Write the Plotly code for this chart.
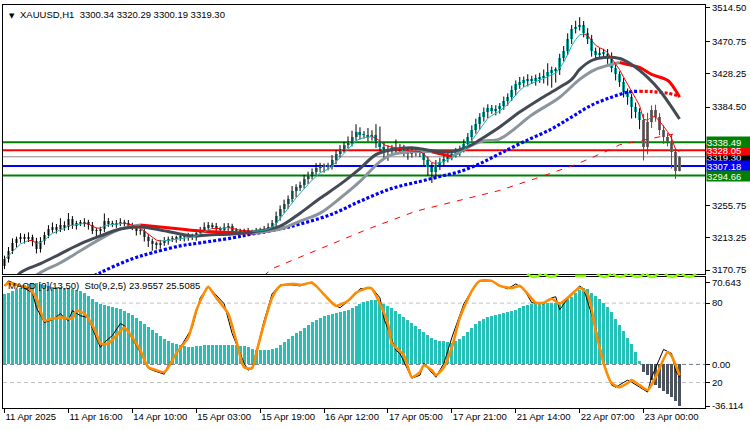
import plotly.graph_objects as go

# ---------------- data ----------------
x_labels = ["11 Apr 2025", "11 Apr 16:00", "14 Apr 10:00", "15 Apr 03:00", "15 Apr 19:00",
            "16 Apr 12:00", "17 Apr 05:00", "17 Apr 21:00", "21 Apr 14:00", "22 Apr 07:00",
            "23 Apr 00:00"]
x_label_bars = [0, 16, 32, 48, 64, 80, 96, 112, 128, 144, 160]

price_ticks = [3514.50, 3470.75, 3428.25, 3384.50, 3255.75, 3213.25, 3170.75]

first_open = 3176.0
closes = [
    3185.6, 3196.0, 3206.4, 3211.6, 3214.2, 3211.6, 3214.2, 3209.0, 3198.6, 3209.0,
    3216.8, 3224.6, 3227.2, 3224.6, 3229.8, 3227.2, 3237.6, 3229.8, 3232.4, 3232.4,
    3233.7, 3229.8, 3222.0, 3222.0, 3224.6, 3235.0, 3232.4, 3231.1, 3232.4, 3233.7,
    3232.4, 3229.8, 3227.2, 3222.0, 3222.0, 3214.2, 3209.0, 3205.1, 3203.8, 3206.4,
    3209.0, 3211.6, 3211.6, 3212.9, 3214.2, 3214.2, 3215.5, 3214.2, 3219.4, 3223.3,
    3227.2, 3229.8, 3228.5, 3224.6, 3224.6, 3227.2, 3228.5, 3222.0, 3222.0, 3220.7,
    3222.0, 3220.7, 3220.7, 3222.0, 3223.3, 3224.6, 3227.2, 3232.4, 3241.5, 3250.6,
    3257.1, 3263.6, 3274.0, 3279.2, 3281.8, 3289.6, 3294.8, 3300.0, 3305.2, 3306.5,
    3306.5, 3306.5, 3315.6, 3323.4, 3328.6, 3335.1, 3339.0, 3345.5, 3352.0, 3348.1,
    3348.1, 3345.5, 3348.1, 3339.0, 3332.5, 3326.0, 3328.6, 3329.9, 3328.6, 3329.9,
    3326.0, 3323.4, 3326.0, 3326.0, 3326.0, 3315.6, 3306.5, 3300.0, 3309.1, 3313.0,
    3316.9, 3320.8, 3323.4, 3326.0, 3329.9, 3336.4, 3345.5, 3354.6, 3362.4, 3371.5,
    3378.0, 3383.2, 3380.6, 3381.9, 3385.8, 3392.3, 3397.5, 3406.6, 3414.4, 3417.0,
    3419.6, 3419.6, 3419.6, 3422.2, 3423.5, 3424.8, 3430.0, 3432.6, 3432.6, 3449.5,
    3458.6, 3474.2, 3487.2, 3489.8, 3492.4, 3482.0, 3474.2, 3458.6, 3453.4, 3456.0,
    3454.7, 3448.2, 3435.2, 3427.4, 3417.0, 3404.0, 3397.5, 3384.5, 3378.0, 3367.6,
    3332.5, 3365.0, 3380.6, 3371.5, 3354.6, 3345.5, 3339.0, 3326.0, 3300.34, 3319.30,
]
upper_wicks = [
    4, 5, 6, 3, 5, 4, 6, 3, 4, 5,
    4, 5, 6, 4, 9, 5, 8, 4, 3, 4,
    5, 3, 4, 4, 3, 10, 4, 3, 4, 5,
    3, 4, 3, 4, 5, 3, 4, 3, 3, 4,
    5, 3, 4, 3, 4, 3, 4, 3, 5, 4,
    6, 4, 3, 4, 3, 5, 4, 3, 4, 3,
    3, 4, 3, 4, 3, 4, 5, 4, 6, 5,
    6, 5, 7, 4, 5, 6, 5, 4, 6, 5,
    4, 5, 6, 5, 6, 4, 7, 8, 10, 6,
    5, 9, 6, 14, 20, 5, 6, 5, 12, 6,
    5, 4, 6, 5, 4, 3, 4, 5, 6, 5,
    4, 5, 4, 5, 4, 6, 5, 6, 7, 5,
    6, 5, 4, 5, 4, 6, 5, 6, 5, 7,
    5, 8, 6, 5, 6, 9, 12, 5, 4, 5,
    6, 7, 5, 8, 10, 5, 6, 5, 4, 6,
    5, 6, 8, 5, 4, 6, 5, 4, 6, 5,
    8, 12, 6, 7, 5, 6, 5, 10, 4, 0.99,
]
lower_wicks = [
    4, 5, 4, 6, 5, 6, 4, 7, 6, 5,
    5, 4, 5, 6, 4, 5, 4, 5, 6, 4,
    5, 6, 4, 7, 5, 4, 5, 4, 5, 4,
    4, 5, 4, 6, 5, 6, 8, 9, 6, 5,
    4, 5, 4, 5, 4, 6, 5, 4, 5, 4,
    4, 5, 4, 5, 6, 4, 5, 4, 5, 4,
    4, 5, 4, 3, 4, 5, 4, 4, 5, 6,
    5, 6, 4, 8, 5, 4, 6, 5, 4, 6,
    8, 5, 4, 6, 5, 4, 5, 6, 5, 6,
    5, 6, 5, 8, 6, 10, 12, 8, 6, 5,
    6, 8, 5, 6, 7, 8, 12, 15, 10, 7,
    6, 5, 6, 5, 6, 5, 4, 6, 5, 7,
    6, 8, 5, 7, 6, 5, 6, 5, 7, 6,
    6, 8, 5, 7, 6, 8, 12, 20, 16, 6,
    5, 6, 7, 6, 5, 6, 7, 8, 6, 5,
    6, 7, 5, 8, 6, 7, 10, 15, 8, 12,
    18, 10, 8, 6, 7, 9, 6, 22, 10, 0.15,
]

macd_hist = [
    61, 62, 64, 65, 66, 69, 70, 70.6, 70.643, 70,
    69, 68, 67, 67, 67, 66, 66, 65, 64.5, 63.6,
    62, 59, 57, 54, 52.5, 51.6, 50.7, 50, 49, 48,
    46.4, 44.7, 43, 40.4, 37.8, 35.3, 32.7, 30, 27.5, 25,
    22.4, 20.6, 19, 18, 17.2, 16.3, 15.5, 15.5, 16.3, 16.3,
    17.2, 17.2, 17.2, 17.2, 17.2, 17.2, 17.2, 17.2, 17.2, 16.3,
    16.3, 15.5, 13.8, 12.9, 12.9, 12.9, 12.9, 13.8, 14.6, 17.2,
    19.8, 22.4, 25, 27.5, 29.2, 31.8, 34.4, 37, 38.7, 40.4,
    42, 43, 43.9, 44.7, 45.6, 46.4, 47.3, 49, 50.7, 52.5,
    54.2, 55, 56, 56, 54.2, 52.5, 50.7, 49, 46.4, 43.9,
    41.3, 38.7, 36, 33.5, 31, 28.4, 25.8, 23.2, 21.5, 20.6,
    20.6, 19.8, 19, 20.6, 22.4, 25, 28.4, 31.8, 35.3, 37.8,
    39.5, 41.3, 42, 43, 43.9, 44.7, 45.6, 46.4, 47.3, 49,
    50.7, 51.6, 52.5, 53.3, 53.3, 53.3, 53.3, 53.3, 53.3, 54.2,
    55, 56.8, 58.5, 62, 64.5, 66.2, 65.4, 62, 59.3, 56.8,
    53.3, 50, 45.6, 39.5, 34.4, 29.2, 23.2, 18, 11.2, 3.4,
    -6.9, -9.5, -13.8, -18, -20.6, -23.2, -25.8, -28.4, -31.5, -36.114,
]

sto_main_bars = [0, 1, 4, 7, 8, 10, 12, 14, 15, 16, 17, 19, 21, 22, 24, 25, 27, 29, 30, 32,
                 34, 36, 37, 40, 41, 44, 47, 49, 51, 52, 55, 57, 60, 61, 62, 63, 65, 67, 69, 72,
                 74, 77, 78, 82, 84, 87, 89, 92, 94, 95, 98, 99, 102, 104, 105, 106, 108, 110, 112, 115,
                 118, 119, 122, 124, 126, 128, 130, 132, 135, 137, 138, 139, 141, 144, 145, 148, 150, 152, 153, 156,
                 157, 159, 161, 162, 165, 167, 168, 169]
sto_main = [93, 96.8, 93, 87.8, 76.5, 65.3, 67.5, 72, 69, 66.8, 74.3, 70.5, 69, 60.8, 46.5, 50.3, 55.5, 64.5, 63, 53.3,
            42.8, 30.8, 29.3, 26.3, 33, 46.5, 61.5, 84, 92.3, 89.3, 79.5, 57, 34.5, 29.3, 31.5, 42.8, 66.8, 87, 93.8, 93.8,
            93, 96, 93, 79.5, 76.5, 84, 90.8, 91.5, 84, 68.3, 44.3, 42, 23.3, 25.5, 34.5, 30.8, 24, 34.5, 54, 79.5,
            94.5, 96.8, 96.8, 93, 90.8, 94.5, 90.8, 80.3, 79.5, 84, 84.8, 75, 83.3, 93, 90.8, 61.5, 34.5, 18, 16.5, 21.8,
            20.3, 16.5, 12.8, 24, 45, 42, 29.3, 23.9557]

sto_signal_bars = [0, 1, 4, 6, 8, 9, 10, 12, 15, 17, 18, 20, 21, 23, 24, 26, 28, 30, 32, 34,
                   36, 38, 40, 41, 43, 46, 48, 50, 51, 53, 56, 58, 60, 62, 63, 65, 67, 69, 72, 74,
                   77, 78, 81, 83, 86, 88, 91, 92, 94, 96, 97, 100, 101, 102, 104, 105, 107, 108, 110, 112,
                   114, 117, 119, 122, 124, 127, 129, 131, 133, 135, 137, 139, 141, 144, 146, 148, 150, 152, 154, 156,
                   157, 159, 161, 163, 166, 167, 169]
sto_signal = [93, 95.3, 93, 91.5, 84, 74.3, 66.8, 68.3, 69, 68.3, 74.3, 72, 68.3, 57, 49.5, 49.5, 55.5, 61.5, 54, 44.3,
              31.5, 29.3, 27.8, 31.5, 42, 54, 74.3, 87.8, 92.3, 84, 72, 51.8, 31.5, 30.8, 42, 64.5, 84, 93, 94.5, 93.8,
              95.3, 93, 83.3, 78, 81.8, 87.8, 91.5, 90.8, 79.5, 64.5, 49.5, 40.5, 31.5, 24, 27.8, 33, 29.3, 25.5, 31.5, 46.5,
              69, 89.3, 96.8, 96.8, 93, 91.5, 93, 87, 80.3, 80.3, 83.3, 79.5, 84, 91.5, 87, 59.3, 34.5, 19.5, 16.5, 19.5,
              21.8, 18, 14.3, 24, 42.8, 40, 25.5085]

ma_dark_bars = [0, 4, 9, 14, 19, 24, 29, 34, 39, 44, 47, 51, 57, 62, 69, 74, 79, 84, 89, 93,
                97, 102, 107, 112, 117, 119, 124, 129, 134, 139, 142, 144, 147, 150, 154, 157, 161, 164, 169]
ma_dark = [3140, 3167.4, 3179.1, 3192.1, 3205.1, 3215.5, 3224.6, 3227.2, 3223.3, 3218.1,
           3215.5, 3216.8, 3218.1, 3220.7, 3228.5, 3245.4, 3264.9, 3283.1, 3303.9, 3322.1,
           3328.6, 3331.2, 3327.3, 3326.0, 3335.1, 3341.6, 3358.5, 3378.0, 3394.9, 3410.5,
           3420.9, 3433.9, 3445.6, 3449.5, 3448.2, 3440.4, 3423.5, 3406.6, 3368.9]

ma_light_bars = [4, 9, 14, 19, 24, 29, 34, 39, 44, 49, 54, 62, 69, 74, 79, 84, 89, 94, 97, 102,
                 107, 112, 119, 124, 132, 139, 144, 148, 152, 154, 156, 159, 162, 166, 168, 169]
ma_light = [3150, 3167.4, 3180.4, 3196.0, 3211.6, 3224.6, 3229.8, 3227.2, 3224.6, 3222.0,
            3220.7, 3219.4, 3224.6, 3235.0, 3245.4, 3264.9, 3287.0, 3313.0, 3322.1, 3326.0,
            3326.0, 3319.5, 3339.0, 3342.9, 3374.1, 3397.5, 3420.9, 3433.9, 3440.4, 3443.0,
            3440.4, 3436.5, 3427.4, 3419.6, 3406.6, 3397.5]

ma_blue_bars = [18, 24, 32, 37, 44, 49, 57, 62, 69, 74, 82, 89, 97, 104, 109, 114, 119, 124, 130, 137,
                142, 147, 152, 156, 159, 162, 166, 169]
ma_blue = [3150.5, 3167.4, 3185.6, 3193.4, 3202.5, 3206.4, 3212.9, 3218.1, 3224.6, 3231.1,
           3244.1, 3261.0, 3277.9, 3287.0, 3293.5, 3300.0, 3310.4, 3323.4, 3339.0, 3355.9,
           3371.5, 3387.1, 3397.5, 3404.0, 3405.3, 3404.8, 3402.7, 3398.8]

ma200_bars = [60, 67, 79, 91, 103, 115, 124, 133, 143, 151, 154, 169]
ma200 = [3141, 3172.6, 3198.6, 3224.6, 3248.0, 3263.6, 3275.3, 3290.9, 3309.1, 3327.3, 3335.1, 3350.7]

level_resist2 = 3338.49
level_resist1 = 3328.05
level_bid = 3319.30
level_support1 = 3307.18
level_support2 = 3294.66

# ---------------- styles ----------------
FONT = "Liberation Sans"
TEAL = "#20b2aa"
HIST_TEAL = "#27c0b6"
HIST_NEG = "#4b525b"
GRAY_CANDLE = "#6e6e6e"
DARK_MA = "#434a54"
LIGHT_MA = "#8b959d"
RED = "#ff0000"

n = len(closes)
bars = list(range(n))
opens = [first_open] + closes[:-1]
highs = [max(o, c) + u for o, c, u in zip(opens, closes, upper_wicks)]
lows = [min(o, c) - l for o, c, l in zip(opens, closes, lower_wicks)]
sell = [h < 0 for h in macd_hist]

fig = go.Figure()

# candle bodies
fig.add_trace(go.Bar(
    x=bars, base=[min(o, c) for o, c in zip(opens, closes)],
    y=[max(abs(c - o), 0.8) for o, c in zip(opens, closes)],
    width=0.75, marker=dict(color=[GRAY_CANDLE if s else TEAL for s in sell], line=dict(width=0)),
    xaxis="x", yaxis="y", hoverinfo="skip", showlegend=False))

# wicks
wk_x, wk_y, wr_x, wr_y = [], [], [], []
for i in bars:
    tx, ty = (wr_x, wr_y) if sell[i] else (wk_x, wk_y)
    tx += [i, i, None]
    ty += [lows[i], highs[i], None]
fig.add_trace(go.Scatter(x=wk_x, y=wk_y, mode="lines", line=dict(color="black", width=1),
                         xaxis="x", yaxis="y", hoverinfo="skip", showlegend=False))
fig.add_trace(go.Scatter(x=wr_x, y=wr_y, mode="lines", line=dict(color="#b22222", width=1),
                         xaxis="x", yaxis="y", hoverinfo="skip", showlegend=False))


def slope_runs(xs, ys):
    rx, ry, fx, fy = [], [], [], []
    cur = None
    for k in range(1, len(xs)):
        up = ys[k] >= ys[k - 1]
        tx, ty = (rx, ry) if up else (fx, fy)
        if cur != up:
            if cur is not None:
                ox, oy = (rx, ry) if cur else (fx, fy)
                ox.append(None)
                oy.append(None)
            tx.append(xs[k - 1])
            ty.append(ys[k - 1])
            cur = up
        tx.append(xs[k])
        ty.append(ys[k])
    return rx, ry, fx, fy


def add_line(x, y, color, width, dash="solid", shape="linear"):
    fig.add_trace(go.Scatter(x=x, y=y, mode="lines", connectgaps=False,
                             line=dict(color=color, width=width, dash=dash, shape=shape),
                             xaxis="x", yaxis="y", hoverinfo="skip", showlegend=False))


# long MA (red dashed)
add_line(ma200_bars, ma200, RED, 1, dash="6px,7px")

# blue dotted MA (red when falling)
bx, by, rx_, ry_ = slope_runs(ma_blue_bars, ma_blue)
add_line(bx, by, "#0000ff", 3.2, dash="3px,2px", shape="spline")
add_line(rx_, ry_, RED, 3.2, dash="3px,2px", shape="spline")

# light gray MA (red when falling)
lx, ly, lrx, lry = slope_runs(ma_light_bars, ma_light)
add_line(lx, ly, LIGHT_MA, 3, shape="spline")
add_line(lrx, lry, RED, 3, shape="spline")

# dark gray MA
add_line(ma_dark_bars, ma_dark, DARK_MA, 3, shape="spline")

# fast EMA of closes (teal rising / red falling)
alpha = 2.0 / (5 + 1)
fast = []
e = closes[0]
for c in closes:
    e = e + alpha * (c - e)
    fast.append(e)
fx_, fy_, frx, fry = slope_runs(bars, fast)
add_line(fx_, fy_, TEAL, 1)
add_line(frx, fry, RED, 1)

# ---------------- indicator panel ----------------
fig.add_trace(go.Bar(x=bars, y=macd_hist, width=0.75,
                     marker=dict(color=[HIST_NEG if v < 0 else HIST_TEAL for v in macd_hist], line=dict(width=0)),
                     xaxis="x2", yaxis="y2", hoverinfo="skip", showlegend=False))
fig.add_trace(go.Scatter(x=sto_main_bars, y=sto_main, mode="lines", line=dict(color="black", width=1),
                         xaxis="x2", yaxis="y3", hoverinfo="skip", showlegend=False))
fig.add_trace(go.Scatter(x=sto_signal_bars, y=sto_signal, mode="lines",
                         line=dict(color="#ff8c00", width=2.6, shape="spline", smoothing=0.6),
                         xaxis="x2", yaxis="y3", hoverinfo="skip", showlegend=False))

# ---------------- shapes ----------------
shapes = []
for val, col, w in [(level_resist2, "#008000", 2), (level_resist1, RED, 2), (level_bid, "#8a8a8a", 1),
                    (level_support1, "#0000ff", 2), (level_support2, "#008000", 2)]:
    shapes.append(dict(type="line", xref="x domain", yref="y", x0=0, x1=1, y0=val, y1=val,
                       line=dict(color=col, width=w), layer="below"))
for val, yr, col in [(80, "y3", "#c0c0c0"), (20, "y3", "#c0c0c0"), (0, "y2", "#6a7a8c")]:
    shapes.append(dict(type="line", xref="x2 domain", yref=yr, x0=0, x1=1, y0=val, y1=val,
                       line=dict(color=col, width=1, dash="4px,3px"), layer="below"))


# watermark strip (bottoms of large green letters visible between the panels)
def px_x(x):
    return (x - 2) / 703.0


def px_y(y):
    return (408 - y) / 406.0


for a, b in [(527, 541), (544, 558), (597, 611), (613, 627), (630, 644), (646, 658), (665, 679), (682, 696)]:
    m = (a + b) / 2
    shapes.append(dict(type="path", xref="paper", yref="paper",
                       path=f"M {px_x(a)},{px_y(273)} Q {px_x(m)},{px_y(279)} {px_x(b)},{px_y(273)}",
                       line=dict(color="#80ff00", width=2.5)))
shapes.append(dict(type="rect", xref="paper", yref="paper", x0=px_x(575), x1=px_x(586),
                   y0=px_y(276), y1=px_y(273.5), fillcolor="#80ff00", line=dict(width=0)))

# ---------------- annotations ----------------
ann = []
ann.append(dict(xref="paper", yref="paper", x=0, y=1, xshift=4, yshift=-5, xanchor="left", yanchor="top",
                text="▼", showarrow=False, font=dict(family="DejaVu Sans", size=7, color="black")))
ann.append(dict(xref="paper", yref="paper", x=0, y=1, xshift=15, yshift=-2, xanchor="left", yanchor="top",
                text="XAUUSD,H1\u00a0\u00a03300.34 3320.29 3300.19 3319.30", showarrow=False,
                font=dict(family=FONT, size=9.5, color="black")))
ann.append(dict(xref="paper", yref="paper", x=0, y=132 / 406.0, xshift=3, yshift=-1, xanchor="left", yanchor="top",
                text="MACD [0](13,50)\u00a0\u00a0Sto(9,2,5) 23.9557 25.5085", showarrow=False,
                font=dict(family=FONT, size=9.5, color="black")))

# price labels on the right (drawn in this order so the upper/lower ones sit on top)
for val, bg in [(level_bid, "#000000"), (level_resist1, "#ff0000"), (level_support1, "#0000ff"),
                (level_resist2, "#008000"), (level_support2, "#008000")]:
    ann.append(dict(xref="paper", yref="y", x=1, y=val, xshift=1, xanchor="left", yanchor="middle",
                    text=f"{val:.2f}", showarrow=False, bgcolor=bg, width=43, height=10, align="left",
                    borderpad=0, font=dict(family=FONT, size=9.5, color="white")))

main_lo = 3165.6
main_hi = 3518.4
axis_font = dict(family=FONT, size=9.5, color="black")
common = dict(showgrid=False, zeroline=False, showline=True, linecolor="black", linewidth=1, mirror=True)

fig.update_layout(
    width=750, height=430,
    margin=dict(l=2, r=45, t=2, b=22),
    paper_bgcolor="white", plot_bgcolor="white",
    showlegend=False, barmode="overlay", bargap=0,
    xaxis=dict(domain=[0, 1], anchor="y", range=[-0.375, 175.375], showticklabels=False, ticks="", **common),
    yaxis=dict(domain=[135 / 406.0, 1], anchor="x", range=[main_lo, main_hi], side="right",
               tickvals=price_ticks, ticktext=[f"{v:.2f}" for v in price_ticks],
               ticks="outside", ticklen=4, tickcolor="black", tickfont=axis_font,
               ticklabeloverflow="allow", **common),
    xaxis2=dict(domain=[0, 1], anchor="y2", matches="x", range=[-0.375, 175.375],
                tickvals=x_label_bars, ticktext=x_labels, ticks="outside", ticklen=4, tickcolor="black",
                ticklabelposition="outside right", tickfont=axis_font, **common),
    yaxis2=dict(domain=[0, 132 / 406.0], anchor="x2", range=[-37.8, 75.8], side="right",
                tickvals=[70.643, 0, -36.114], ticktext=["70.643", "0.00", "-36.114"],
                ticks="outside", ticklen=4, tickcolor="black", tickfont=axis_font, **common),
    yaxis3=dict(overlaying="y2", anchor="x2", range=[0.75, 99.75], side="right",
                tickvals=[80, 20], ticktext=["80", "20"], ticks="outside", ticklen=4, tickcolor="black",
                tickfont=axis_font, showgrid=False, zeroline=False, showline=False),
    shapes=shapes,
    annotations=ann,
)

fig.write_html("out.html")
